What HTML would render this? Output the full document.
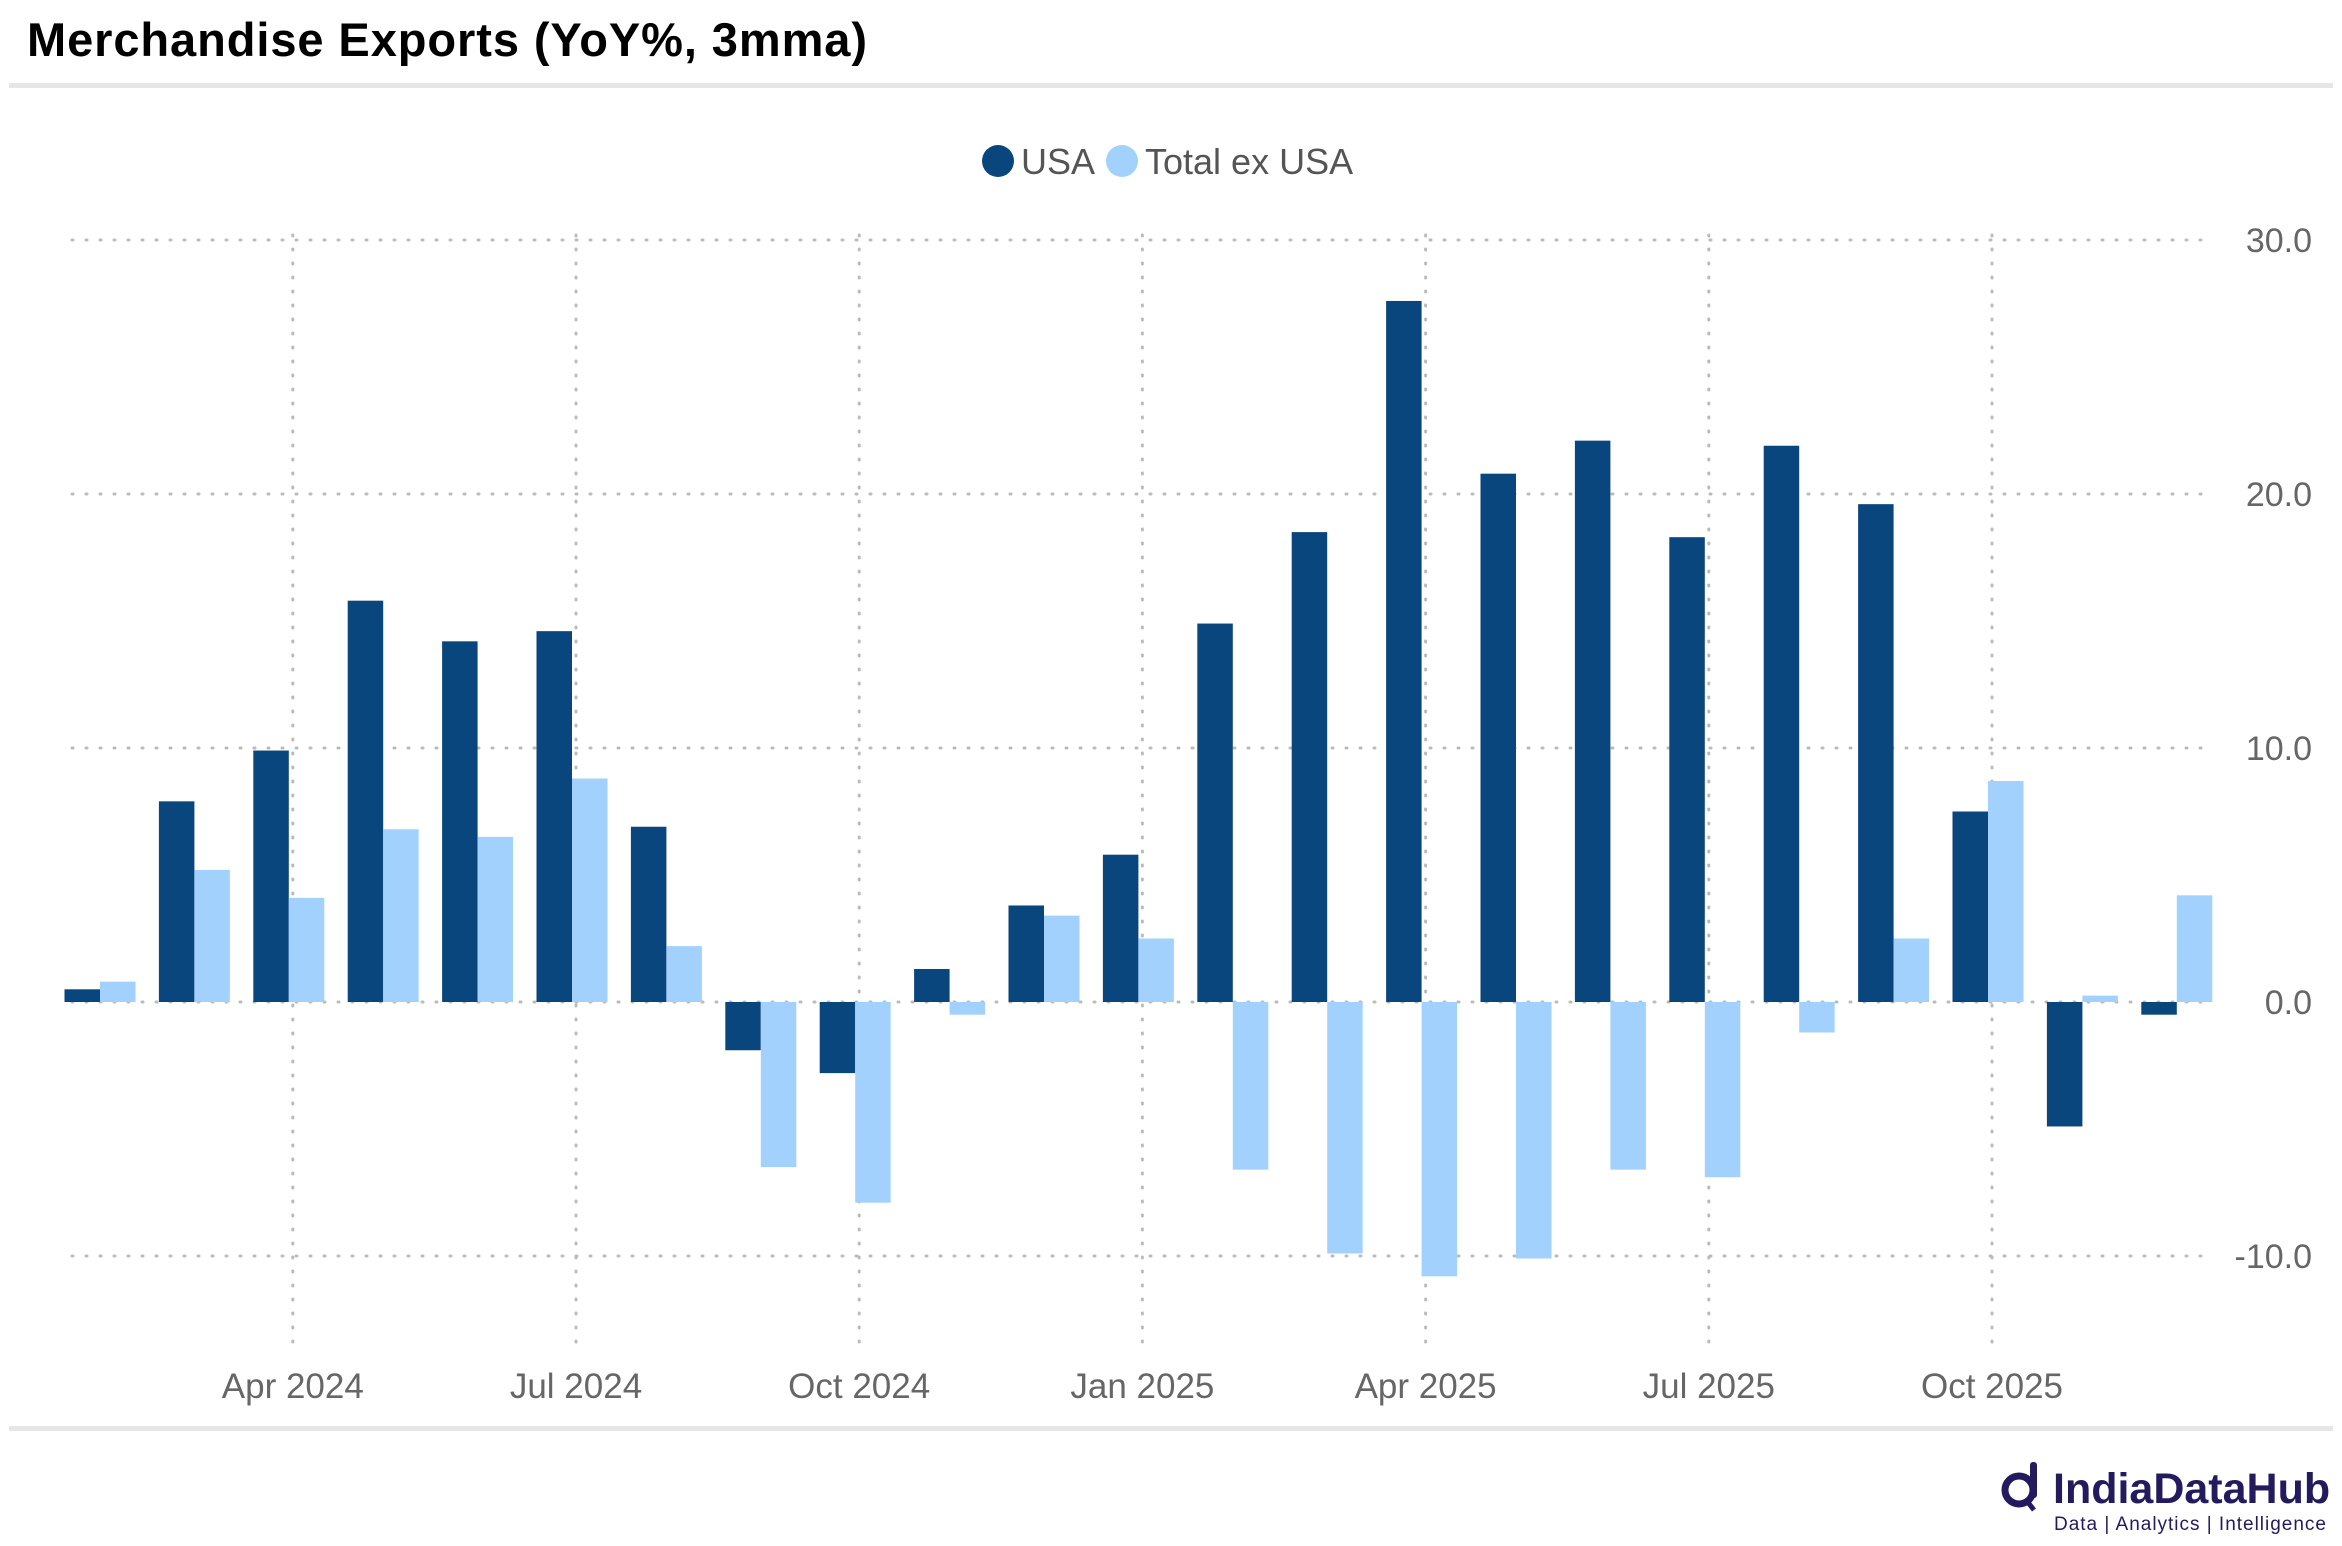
<!DOCTYPE html>
<html><head><meta charset="utf-8"><style>
html,body{margin:0;padding:0;background:#fff;}
svg{display:block;font-family:"Liberation Sans",sans-serif;}
</style></head><body>
<svg id="chart" width="2342" height="1546" viewBox="0 0 2342 1546">
<text x="27" y="56" font-size="47" font-weight="bold" fill="#000" textLength="840">Merchandise Exports (YoY%, 3mma)</text>
<rect x="9" y="83" width="2324" height="5" fill="#e6e6e6"/>
<rect x="9" y="1426" width="2324" height="5" fill="#e6e6e6"/>
<g>
<g><circle cx="998" cy="161" r="16" fill="#0a467e"/><text x="1021" y="174" font-size="36" fill="#555">USA</text></g>
<g><circle cx="1122" cy="161" r="16" fill="#a3d1fd"/><text x="1145" y="174" font-size="36" fill="#555">Total ex USA</text></g>
</g>
<g id="grid"></g>
<g id="bars"></g>
<g id="axes"></g>
<g>
<circle cx="2019" cy="1490" r="14" fill="none" stroke="#231b5e" stroke-width="7"/>
<rect x="2030" y="1462" width="7" height="36" rx="3" fill="#231b5e"/>
<line x1="2026" y1="1500" x2="2034" y2="1510" stroke="#231b5e" stroke-width="5"/>
<text x="2053" y="1503" font-size="43" font-weight="bold" fill="#231b5e">IndiaDataHub</text>
<text x="2054" y="1530" font-size="19" fill="#231b5e" textLength="272">Data | Analytics | Intelligence</text>
</g>
</svg>
<script>
const usaValues = [0.5, 7.9, 9.9, 15.8, 14.2, 14.6, 6.9, -1.9, -2.8, 1.3, 3.8, 5.8, 14.9, 18.5, 27.6, 20.8, 22.1, 18.3, 21.9, 19.6, 7.5, -4.9, -0.5];
const totalExUsaValues = [0.8, 5.2, 4.1, 6.8, 6.5, 8.8, 2.2, -6.5, -7.9, -0.5, 3.4, 2.5, -6.6, -9.9, -10.8, -10.1, -6.6, -6.9, -1.2, 2.5, 8.7, 0.25, 4.2];
const yTicks = [30, 20, 10, 0, -10];
const xTickLabels = ["Apr 2024", "Jul 2024", "Oct 2024", "Jan 2025", "Apr 2025", "Jul 2025", "Oct 2025"];
const xTickIndex = [2, 5, 8, 11, 14, 17, 20];

const NS = "http://www.w3.org/2000/svg";
const y = v => 1002 - v * 25.4;
const xc = i => 100 + i * 94.4;
const bw = 35.5;
const grid = document.getElementById('grid');
const bars = document.getElementById('bars');
const axes = document.getElementById('axes');
function mk(tag, attrs, parent){const e=document.createElementNS(NS,tag);for(const k in attrs)e.setAttribute(k,attrs[k]);parent.appendChild(e);return e;}

yTicks.forEach(t=>{
  const l = mk('line',{x1:72,x2:2213,y1:y(t),y2:y(t),stroke:'#bbb','stroke-width':3,'stroke-dasharray':'1 13','stroke-linecap':'round'},grid);
  
  
  const tx = mk('text',{x:2312,y:y(t)+12,'font-size':34,fill:'#666','text-anchor':'end'},axes);
  tx.textContent = t.toFixed(1);
  
  
});
xTickIndex.forEach((idx,k)=>{
  const gx = xc(idx)+4;
  const l = mk('line',{x1:gx,x2:gx,y1:235,y2:1345,stroke:'#bbb','stroke-width':3,'stroke-dasharray':'1 13','stroke-linecap':'round'},grid);
  
  
  const tx = mk('text',{x:gx,y:1398,'font-size':35,fill:'#666','text-anchor':'middle'},axes);
  tx.textContent = xTickLabels[k];
  
  
});
usaValues.forEach((v,i)=>{
  const r = mk('rect',{x:xc(i)-bw,y:Math.min(y(v),y(0)),width:bw,height:Math.abs(y(v)-y(0)),fill:'#0a467e'},bars);
  
  
});
totalExUsaValues.forEach((v,i)=>{
  const r = mk('rect',{x:xc(i),y:Math.min(y(v),y(0)),width:bw,height:Math.abs(y(v)-y(0)),fill:'#a3d1fd'},bars);
  
  
});
</script>
</body></html>
